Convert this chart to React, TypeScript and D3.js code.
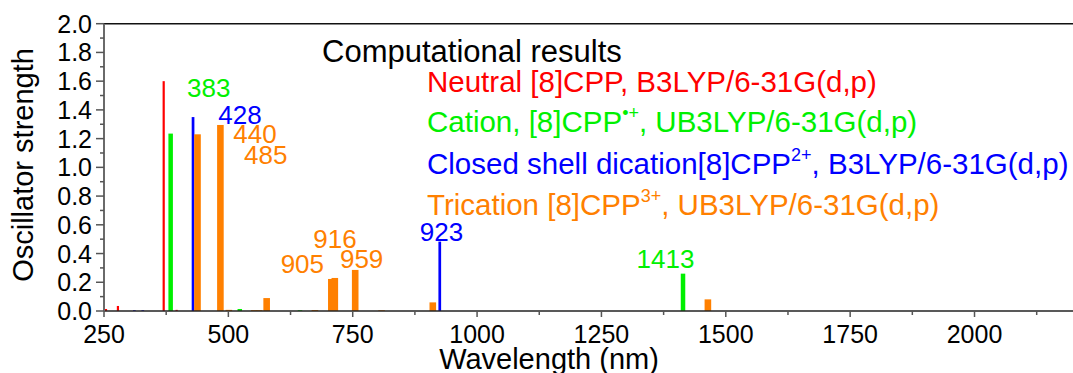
import React from "react";
import * as d3 from "d3";

// Excitation wavelengths (nm) and oscillator strengths for each charge state of [8]CPP
const neutralWl = [254, 278, 370, 396];
const neutralF = [0.014, 0.035, 1.6, 0.008];

const cationWl = [384, 523, 644, 1414];
const cationF = [1.235, 0.014, 0.005, 0.26];

const dicationWl = [311, 328, 429, 925];
const dicationF = [0.005, 0.005, 1.35, 0.483];

const tricationWl = [438, 484, 501, 552, 562, 577, 674, 707, 714, 755, 808, 911, 1464];
const tricationF = [1.23, 1.295, 0.008, 0.006, 0.006, 0.09, 0.007, 0.223, 0.23, 0.286, 0.005, 0.06, 0.081];

// Peak labels (nm) and the series they belong to
const peakLabels = ["383", "428", "440", "485", "905", "916", "959", "923", "1413"];
const peakSeries = ["cation", "dication", "trication", "trication", "trication", "trication", "trication", "dication", "cation"];

const xTicks = [250, 500, 750, 1000, 1250, 1500, 1750, 2000];
const yTicks = [0, 0.2, 0.4, 0.6, 0.8, 1.0, 1.2, 1.4, 1.6, 1.8, 2.0];

const FONT = "'Liberation Sans', Arial, Helvetica, sans-serif";

const colors: Record<string, string> = {
  neutral: "#ff0000",
  cation: "#00f000",
  dication: "#0000ff",
  trication: "#ff8000",
};

// Label anchors in data units (wavelength, strength)
const labelAnchors: [number, number][] = [
  [416.8, 1.49],
  [479.7, 1.3],
  [509.9, 1.17],
  [531.4, 1.024],
  [605.1, 0.263],
  [670.6, 0.437],
  [724.3, 0.297],
  [885, 0.49],
  [1320.5, 0.3],
];

export default function App() {
  const W = 1073;
  const H = 373;
  const x = d3.scaleLinear().domain([250, 2200]).range([104, 1074]);
  const y = d3.scaleLinear().domain([0, 2]).range([311, 23.7]);

  const series = [
    { key: "neutral", wl: neutralWl, f: neutralF, w: 2.2 },
    { key: "cation", wl: cationWl, f: cationF, w: 4.5 },
    { key: "dication", wl: dicationWl, f: dicationF, w: 2.7 },
    { key: "trication", wl: tricationWl, f: tricationF, w: 6.6 },
  ];

  const minorX = d3.range(375, 2200, 250);
  const minorY = d3.range(0.1, 2.0, 0.2);

  const legendX = 427;

  return (
    <div style={{ position: "fixed", left: 0, top: 0 }}>
      <svg width={W} height={H} style={{ display: "block", background: "#fff" }} fontFamily={FONT}>
        {/* bars */}
        {series.map((s) => (
          <g key={s.key} fill={colors[s.key]}>
            {s.wl.map((wl, i) => (
              <rect
                key={i}
                x={x(wl) - s.w / 2}
                y={y(s.f[i])}
                width={s.w}
                height={Math.max(0, y(0) - y(s.f[i]))}
              />
            ))}
          </g>
        ))}

        {/* frame lines */}
        <line x1={104} x2={W} y1={y(2)} y2={y(2)} stroke="#111" strokeWidth={1.6} />
        <line x1={104} x2={W} y1={y(0)} y2={y(0)} stroke="#222" strokeWidth={1.6} />
        <line x1={104} x2={104} y1={y(2)} y2={y(0)} stroke="#6a6a6a" strokeWidth={2} />

        {/* x ticks */}
        {xTicks.map((t) => (
          <g key={t}>
            <line x1={x(t)} x2={x(t)} y1={y(0)} y2={y(0) + 6} stroke="#555" strokeWidth={1.5} />
            <text x={x(t)} y={343} textAnchor="middle" fontSize={25} fill="#000">
              {t}
            </text>
          </g>
        ))}
        {minorX.map((t) => (
          <line key={t} x1={x(t)} x2={x(t)} y1={y(0)} y2={y(0) + 4} stroke="#555" strokeWidth={1.5} />
        ))}

        {/* y ticks */}
        {yTicks.map((t) => (
          <g key={t}>
            <line x1={96} x2={104} y1={y(t)} y2={y(t)} stroke="#555" strokeWidth={1.5} />
            <text x={92} y={y(t) + 9} textAnchor="end" fontSize={25} fill="#000">
              {t.toFixed(1)}
            </text>
          </g>
        ))}
        {minorY.map((t) => (
          <line key={t} x1={100} x2={104} y1={y(t)} y2={y(t)} stroke="#555" strokeWidth={1.5} />
        ))}

        {/* axis titles */}
        <text
          transform={`translate(33,165) rotate(-90)`}
          textAnchor="middle"
          fontSize={29}
          fill="#000"
        >
          Oscillator strength
        </text>
        <text x={549} y={369} textAnchor="middle" fontSize={29} fill="#000">
          Wavelength (nm)
        </text>

        {/* peak labels */}
        {peakLabels.map((lab, i) => (
          <text
            key={i}
            x={x(labelAnchors[i][0])}
            y={y(labelAnchors[i][1])}
            fontSize={26}
            fill={colors[peakSeries[i]]}
          >
            {lab}
          </text>
        ))}

        {/* legend */}
        <text x={322} y={62} fontSize={31} fill="#000">
          Computational results
        </text>
        <text x={legendX} y={92} fontSize={29.5} fill={colors.neutral}>
          Neutral [8]CPP, B3LYP/6-31G(d,p)
        </text>
        <text x={legendX} y={132} fontSize={29.5} fill={colors.cation}>
          Cation, [8]CPP
          <tspan fontSize={18} dy={-13}>•+</tspan>
          <tspan dy={13}>, UB3LYP/6-31G(d,p)</tspan>
        </text>
        <text x={legendX} y={174} fontSize={29.5} fill={colors.dication}>
          Closed shell dication[8]CPP
          <tspan fontSize={18} dy={-13}>2+</tspan>
          <tspan dy={13}>, B3LYP/6-31G(d,p)</tspan>
        </text>
        <text x={legendX} y={215} fontSize={29.5} fill={colors.trication}>
          Trication [8]CPP
          <tspan fontSize={18} dy={-13}>3+</tspan>
          <tspan dy={13}>, UB3LYP/6-31G(d,p)</tspan>
        </text>
      </svg>
    </div>
  );
}
